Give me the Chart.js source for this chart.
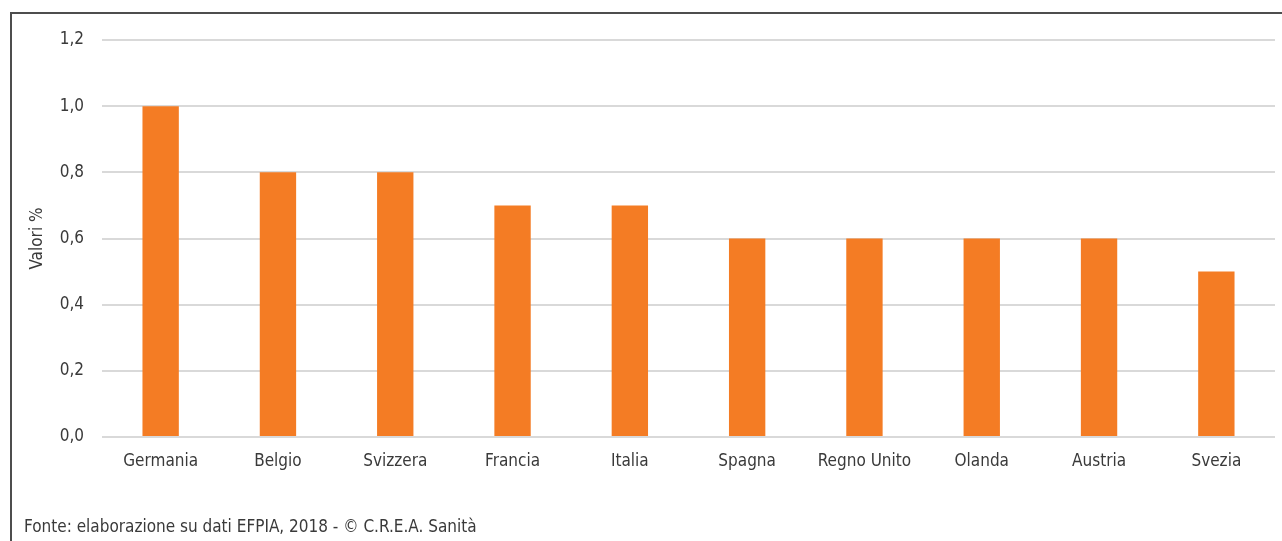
<!DOCTYPE html>
<html lang="it">
  <head>
    <meta charset="UTF-8" />
    <title>Valori %</title>
    <script src="https://cdn.jsdelivr.net/npm/chart.js"></script>
    <style>
      html, body { margin: 0; padding: 0; background: #fff; }
      body { width: 1282px; height: 541px; position: relative; overflow: hidden; }
      /* frame: only top and left edges are visible in the reference */
      .frame {
        position: absolute; left: 10px; top: 12px; right: -5px; bottom: -5px;
        border-left: 2px solid #4d4d4d; border-top: 2px solid #4d4d4d;
      }
      #chart { position: absolute; left: 0; top: 0; }
      .fonte {
        position: absolute; left: 24px; top: 516px;
        font-family: "Liberation Sans Narrow", "DejaVu Sans Condensed", sans-serif;
        font-size: 17px; color: #3a3a3a;
      }
    </style>
  </head>
  <body>
    <div class="frame"></div>
    <canvas id="chart" width="1282" height="541"></canvas>
    <div class="fonte">Fonte: elaborazione su dati EFPIA, 2018 - © C.R.E.A. Sanità</div>

    <script>
      const paesi = ["Germania", "Belgio", "Svizzera", "Francia", "Italia", "Spagna", "Regno Unito", "Olanda", "Austria", "Svezia"];
      const valori = [1.0, 0.8, 0.8, 0.7, 0.7, 0.6, 0.6, 0.6, 0.6, 0.5];
      const yMin = 0;
      const yMax = 1.2;
      const yStep = 0.2;

      const fontFamily = '"Liberation Sans Narrow", "DejaVu Sans Condensed", sans-serif';
      const textColor = "#3a3a3a";

      new Chart(document.getElementById("chart"), {
        type: "bar",
        data: {
          labels: paesi,
          datasets: [
            {
              label: "Valori %",
              data: valori,
              backgroundColor: "#f47c24",
              borderWidth: 0,
              barPercentage: 0.31,
              categoryPercentage: 1,
            },
          ],
        },
        options: {
          responsive: false,
          animation: false,
          layout: { padding: { top: 40, right: 7, left: 0, bottom: 0 } },
          plugins: { legend: { display: false }, tooltip: { enabled: false } },
          scales: {
            x: {
              grid: { display: false, drawTicks: false },
              border: { display: false },
              ticks: {
                color: textColor,
                padding: 14,
                font: { family: fontFamily, size: 17 },
                maxRotation: 0,
              },
              afterFit: (s) => { s.height = 104; },
            },
            y: {
              min: yMin,
              max: yMax,
              grid: { color: "#d9d9d9", lineWidth: 2, drawTicks: false },
              border: { display: false },
              ticks: {
                stepSize: yStep,
                color: textColor,
                padding: 18,
                font: { family: fontFamily, size: 17 },
                callback: (v) => Number(v).toFixed(1).replace(".", ","),
              },
              title: {
                display: true,
                text: "Valori %",
                color: textColor,
                font: { family: fontFamily, size: 17 },
                padding: { top: 27, bottom: 0 },
              },
              afterFit: (s) => { s.width = 102; },
            },
          },
        },
      });
    </script>
  </body>
</html>
